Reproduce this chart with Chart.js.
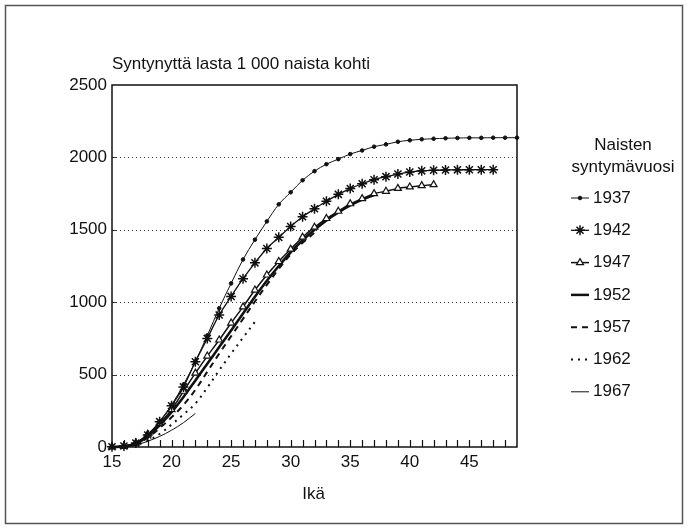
<!DOCTYPE html>
<html>
<head>
<meta charset="utf-8">
<script src="https://cdn.jsdelivr.net/npm/chart.js@4.4.1/dist/chart.umd.min.js"></script>
<style>
  body { margin: 0; background: #fff; }
  #wrap { width: 688px; height: 528px; }
</style>
</head>
<body>
<div id="wrap"><canvas id="kuvio" width="688" height="528"></canvas></div>
<script>
// Ikä (vuotta)
var ika = [15, 16, 17, 18, 19, 20, 21, 22, 23, 24, 25, 26, 27, 28, 29, 30, 31, 32,
           33, 34, 35, 36, 37, 38, 39, 40, 41, 42, 43, 44, 45, 46, 47, 48, 49];

// Syntyneet lapset 1000 naista kohti, kumulatiivisesti iän mukaan
var v1937 = [2, 8, 30, 85, 175, 290, 430, 590, 770, 958, 1130, 1295, 1432, 1558, 1676, 1759, 1842, 1905,
             1953, 1988, 2023, 2048, 2074, 2090, 2108, 2118, 2125, 2129, 2132, 2134, 2135, 2135, 2136, 2136, 2136];
var v1942 = [2, 7, 28, 83, 175, 285, 415, 589, 750, 912, 1040, 1162, 1272, 1371, 1448, 1523, 1590, 1645,
             1697, 1745, 1785, 1818, 1846, 1867, 1885, 1899, 1907, 1911, 1913, 1914, 1915, 1915, 1915];
var v1947 = [0, 5, 28, 88, 165, 258, 385, 510, 628, 739, 856, 968, 1084, 1188, 1281, 1366, 1449, 1518,
             1578, 1628, 1680, 1715, 1750, 1766, 1786, 1796, 1805, 1812];
var v1952 = [0, 3, 22, 75, 150, 240, 345, 460, 575, 690, 805, 922, 1038, 1148, 1250, 1345, 1428, 1500,
             1565, 1620, 1668, 1708, 1740];
var v1957 = [0, 3, 18, 65, 130, 205, 290, 395, 520, 645, 765, 885, 1005, 1120, 1230, 1330, 1410, 1480];
var v1962 = [0, 3, 14, 42, 90, 155, 225, 300, 410, 530, 645, 755, 865];
var v1967 = [0, 3, 14, 40, 73, 116, 168, 232];

var vuodet = ['1937', '1942', '1947', '1952', '1957', '1962', '1967'];
var yRivit = [500, 1000, 1500, 2000];
var xNimet = [15, 20, 25, 30, 35, 40, 45];

var fontti = '"Liberation Sans", Arial, Helvetica, sans-serif';
var musta = '#111';

function pisteet(arvot) {
    return arvot.map(function(v, i) { return { x: ika[i], y: v }; });
}

// kehys, ruudukko, otsikot ja selite
var kehys = {
    id: 'kehys',
    beforeDatasetsDraw: function(chart) {
        var ctx = chart.ctx, a = chart.chartArea, y = chart.scales.y;
        ctx.save();
        ctx.strokeStyle = '#333';
        ctx.lineWidth = 1;
        yRivit.forEach(function(v) {
            var py = Math.round(y.getPixelForValue(v)) + 0.5;
            ctx.setLineDash([]);
            ctx.beginPath(); ctx.moveTo(a.left, py); ctx.lineTo(a.left + 5, py); ctx.stroke();
            ctx.setLineDash([1, 3]);
            ctx.beginPath(); ctx.moveTo(a.left + 8, py); ctx.lineTo(a.right, py); ctx.stroke();
        });
        ctx.restore();
    },
    afterDatasetsDraw: function(chart) {
        var ctx = chart.ctx, a = chart.chartArea, x = chart.scales.x;
        ctx.save();
        ctx.setLineDash([]);
        ctx.strokeStyle = musta;
        ctx.lineWidth = 1.5;
        ctx.strokeRect(a.left, a.top, a.right - a.left, a.bottom - a.top);

        // pienet ikäviivat x-akselilla
        ctx.lineWidth = 1.2;
        ika.forEach(function(v) {
            if (v === 15 || v === 49) return;
            var px = Math.round(x.getPixelForValue(v)) + 0.5;
            ctx.beginPath(); ctx.moveTo(px, a.bottom); ctx.lineTo(px, a.bottom - 7); ctx.stroke();
        });

        // koko kuvan reunus
        ctx.strokeStyle = '#555';
        ctx.lineWidth = 1.5;
        ctx.strokeRect(5.5, 5.5, 677, 518);

        ctx.fillStyle = musta;
        ctx.font = '17px ' + fontti;
        ctx.textBaseline = 'middle';
        ctx.textAlign = 'left';
        ctx.fillText('Syntynyttä lasta 1 000 naista kohti', a.left, 64);
        ctx.textAlign = 'center';
        ctx.fillText('Ikä', (a.left + a.right) / 2 - 1, 494);

        // selite
        ctx.fillText('Naisten', 623, 145);
        ctx.fillText('syntymävuosi', 623, 167);
        chart.data.datasets.forEach(function(ds, i) {
            var ly = 198 + i * 32.3;
            ctx.save();
            ctx.strokeStyle = musta;
            ctx.lineWidth = Math.min(ds.borderWidth, 2.5);
            ctx.setLineDash(ds.borderDash || []);
            ctx.beginPath(); ctx.moveTo(571, ly); ctx.lineTo(589, ly); ctx.stroke();
            ctx.restore();
            if (ds.pointRadius > 0 && Chart.helpers && Chart.helpers.drawPoint) {
                ctx.save();
                ctx.strokeStyle = musta;
                ctx.fillStyle = ds.pointBackgroundColor;
                ctx.lineWidth = ds.pointBorderWidth;
                Chart.helpers.drawPoint(ctx, { pointStyle: ds.pointStyle, radius: ds.pointRadius, rotation: 0, borderWidth: ds.pointBorderWidth }, 580, ly);
                ctx.restore();
            }
            ctx.fillStyle = musta;
            ctx.textAlign = 'left';
            ctx.fillText(vuodet[i], 593, ly);
        });
        ctx.restore();
    }
};

function sarja(nimi, arvot, tyyli) {
    var ds = {
        label: nimi,
        data: pisteet(arvot),
        borderColor: musta,
        backgroundColor: musta,
        borderWidth: 1,
        tension: 0.35,
        pointRadius: 0,
        pointHoverRadius: 0,
        pointBorderColor: musta,
        pointBackgroundColor: musta,
        pointBorderWidth: 1,
        pointStyle: 'circle',
        clip: 8,
        fill: false
    };
    for (var k in tyyli) ds[k] = tyyli[k];
    return ds;
}

var kuvio = new Chart(document.getElementById('kuvio'), {
    type: 'line',
    data: {
        datasets: [
            sarja('1937', v1937, { borderWidth: 1, pointRadius: 1.8, pointStyle: 'circle' }),
            sarja('1942', v1942, { borderWidth: 1.3, pointRadius: 5, pointStyle: 'star', pointBorderWidth: 1.5 }),
            sarja('1947', v1947, { borderWidth: 1.5, pointRadius: 4, pointStyle: 'triangle', pointBackgroundColor: '#fff', pointBorderWidth: 1.2 }),
            sarja('1952', v1952, { borderWidth: 2.6 }),
            sarja('1957', v1957, { borderWidth: 2, borderDash: [6, 5] }),
            sarja('1962', v1962, { borderWidth: 2, borderDash: [2, 5] }),
            sarja('1967', v1967, { borderWidth: 1 })
        ]
    },
    options: {
        responsive: false,
        animation: false,
        events: [],
        layout: { padding: { left: 0, top: 85, right: 171, bottom: 41 } },
        plugins: { legend: { display: false }, tooltip: { enabled: false } },
        scales: {
            x: {
                type: 'linear',
                min: 15,
                max: 49,
                grid: { display: false, drawTicks: false },
                border: { display: false },
                afterFit: function(s) { s.height = 40; },
                ticks: {
                    stepSize: 1,
                    autoSkip: false,
                    maxRotation: 0,
                    padding: 5,
                    color: musta,
                    font: { family: fontti, size: 17 },
                    callback: function(v) { return xNimet.indexOf(v) >= 0 ? String(v) : ''; }
                }
            },
            y: {
                min: 0,
                max: 2500,
                grid: { display: false, drawTicks: false },
                border: { display: false },
                afterFit: function(s) { s.width = 112; },
                ticks: {
                    stepSize: 500,
                    padding: 5,
                    color: musta,
                    font: { family: fontti, size: 17 },
                    callback: function(v) { return String(v); }
                }
            }
        }
    },
    plugins: [kehys]
});
</script>
</body>
</html>
